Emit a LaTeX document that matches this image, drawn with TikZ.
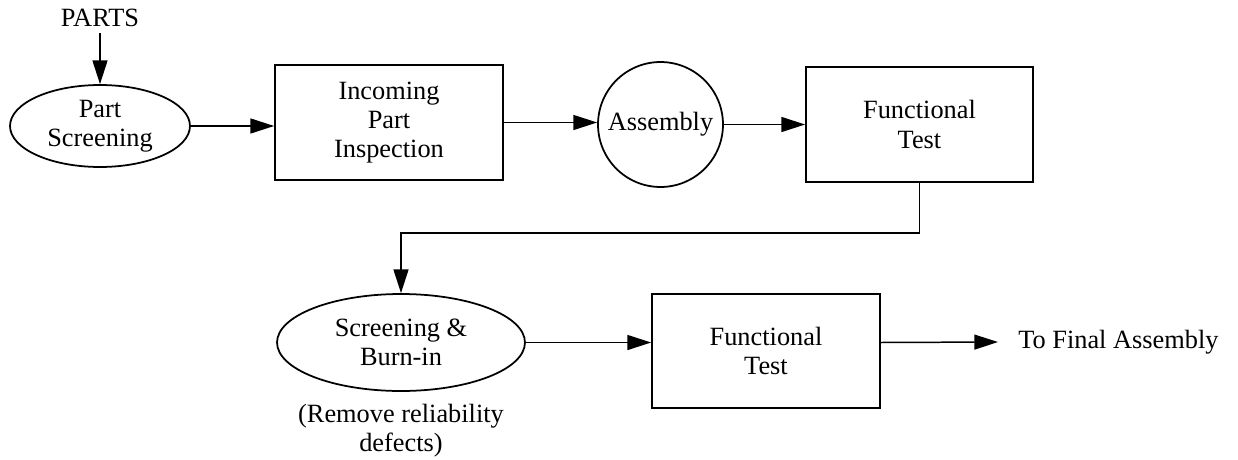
\documentclass[tikz,border=0pt]{standalone}
\usepackage{fontspec}
\setmainfont{Liberation Serif}
\usepackage{tikz}
\usetikzlibrary{shapes.geometric, arrows.meta, positioning, calc}

\tikzset{
    flow/.style={-{Triangle[length=13.5pt, width=8.5pt]}, line width=0.85pt},
    stagebox/.style={draw, line width=1pt, rectangle, align=center, inner sep=0pt},
    stageoval/.style={draw, line width=1pt, ellipse, align=center, inner sep=0pt},
    label/.style={align=center}
}

\begin{document}
\begin{tikzpicture}[x=0.02cm, y=-0.02cm,
    every node/.append style={font=\fontsize{15}{16.6}\selectfont}]

    \useasboundingbox (0,0) rectangle (1238,460);

    % === Top row: parts in, screening, inspection, assembly, test ===
    \node[label] (parts) at (100,18) {PARTS};
    \node[stageoval, minimum width=3.6cm, minimum height=1.64cm] (pscreen) at (100,126) {Part\\Screening};
    \node[stagebox, minimum width=4.56cm, minimum height=2.3cm] (incoming) at (389,122.5) {Incoming\\Part\\Inspection};
    \node[draw, line width=1pt, circle, minimum size=2.5cm, inner sep=0pt] (assembly) at (660.5,124.5) {Assembly};
    \node[stagebox, minimum width=4.54cm, minimum height=2.3cm] (ftest1) at (919.5,124.5) {Functional\\Test};

    % Arrows along the top row
    \draw[flow] (parts) -- (pscreen);
    \draw[flow] (pscreen.east) -- (pscreen.east -| incoming.west);
    \draw[flow] (incoming.east) -- (incoming.east -| assembly.west);
    \draw[flow] (assembly.east) -- (assembly.east -| ftest1.west);

    % === Bottom row: burn-in, final test ===
    \node[stageoval, minimum width=4.96cm, minimum height=1.94cm] (burnin) at (401,342.5) {Screening \&\\Burn-in};
    \node[label] (remove) at (401,431) {(Remove reliability\\defects)};
    \node[stagebox, minimum width=4.56cm, minimum height=2.28cm] (ftest2) at (766,351) {Functional\\Test};
    \node[anchor=west, inner xsep=0.4cm] (final) at (998,342) {To Final Assembly};

    % Return line from the first test down to burn-in
    \coordinate (turn) at (401,233);
    \draw[flow] (ftest1.south) |- (turn) -- (burnin.north);

    % Arrows along the bottom row
    \draw[flow] (burnin.east) -- (burnin.east -| ftest2.west);
    \draw[flow] (burnin.east -| ftest2.east) -- (final.west);

\end{tikzpicture}
\end{document}
